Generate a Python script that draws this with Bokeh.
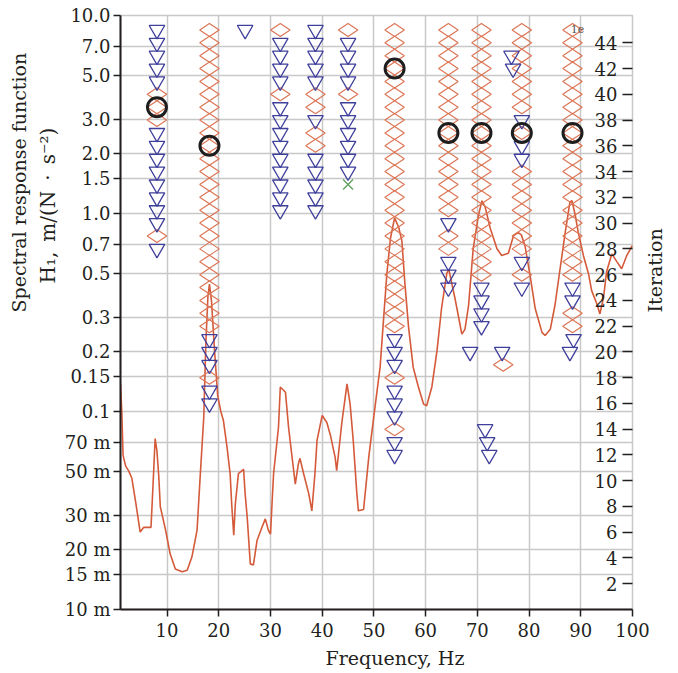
import numpy as np
from bokeh.plotting import figure
from bokeh.models import (Range1d, LinearAxis, LinearScale, FixedTicker, Label, LabelSet,
                          ColumnDataSource, Title)
from bokeh.embed import file_html
from bokeh.resources import INLINE
from bokeh.core.properties import value

# ---------------- data ----------------
freq = [1.0, 1.25, 1.5, 2.0, 2.6, 3.2, 4.0, 4.8, 5.5, 6.9, 7.3, 7.7, 8.05, 8.4, 8.7, 9.7,
        10.6, 11.6, 12.9, 13.9, 14.8, 15.8, 16.4, 17.1, 17.5, 17.9, 18.2, 18.6, 19.2, 19.8,
        20.4, 20.9, 21.6, 22.2, 22.5, 22.9, 23.2, 23.8, 24.8, 25.1, 25.5, 26.1, 26.7, 27.4,
        28.3, 29.0, 29.6, 30.0, 30.6, 31.55, 31.9, 32.9, 33.5, 34.1, 34.8, 35.4, 35.7, 36.4,
        37.4, 38.0, 38.6, 39.0, 40.0, 40.9, 41.6, 42.5, 42.8, 43.8, 44.8, 45.4, 46.0, 46.7,
        47.0, 48.0, 49.0, 50.2, 51.2, 51.8, 52.5, 53.2, 54.0, 54.8, 55.4, 56.0, 56.7, 57.6,
        58.6, 59.6, 60.2, 61.2, 62.2, 63.1, 64.1, 64.5, 65.0, 65.7, 67.0, 67.6, 68.3, 69.2,
        70.2, 70.9, 71.5, 72.5, 73.8, 74.7, 76.0, 77.0, 77.9, 78.5, 79.2, 80.2, 81.2, 82.5,
        83.1, 84.1, 85.0, 86.0, 87.0, 87.9, 88.3, 88.9, 89.5, 90.5, 91.5, 92.1, 93.1, 93.7,
        94.4, 95.0, 96.0, 97.0, 97.9, 98.9, 100.0]
H1 = [0.138, 0.10, 0.06, 0.053, 0.050, 0.046, 0.034, 0.0246, 0.026, 0.026, 0.043, 0.073, 0.063, 0.047, 0.033, 0.0253,
      0.0191, 0.016, 0.0155, 0.0158, 0.0184, 0.0251, 0.0466, 0.0935, 0.22, 0.38, 0.44, 0.36, 0.20, 0.12,
      0.10, 0.09, 0.066, 0.0486, 0.034, 0.0237, 0.034, 0.0486, 0.051, 0.0385, 0.0292, 0.017, 0.0168, 0.0223,
      0.0258, 0.0287, 0.0251, 0.024, 0.0486, 0.0833, 0.133, 0.125, 0.083, 0.061, 0.043, 0.0545, 0.058, 0.0486,
      0.0385, 0.0315, 0.0486, 0.0715, 0.0955, 0.088, 0.0757, 0.0587, 0.0503, 0.088, 0.138, 0.109, 0.0715, 0.0385,
      0.0315, 0.032, 0.0587, 0.105, 0.1675, 0.277, 0.495, 0.75, 0.95, 0.85, 0.73, 0.44, 0.267, 0.167,
      0.133, 0.109, 0.107, 0.133, 0.203, 0.336, 0.50, 0.52, 0.45, 0.37, 0.246, 0.26, 0.343, 0.664,
      0.977, 1.16, 1.08, 0.84, 0.664, 0.614, 0.63, 0.774, 0.80, 0.78, 0.69, 0.486, 0.33, 0.251,
      0.242, 0.26, 0.343, 0.526, 0.805, 1.14, 1.16, 0.99, 0.805, 0.614, 0.495, 0.408, 0.35, 0.311,
      0.377, 0.51, 0.625, 0.57, 0.526, 0.614, 0.69]

y_ticks = [10.0, 7.0, 5.0, 3.0, 2.0, 1.5, 1.0, 0.7, 0.5, 0.3, 0.2, 0.15, 0.1,
           0.07, 0.05, 0.03, 0.02, 0.015, 0.01]
y_tick_labels = ["10.0", "7.0", "5.0", "3.0", "2.0", "1.5", "1.0", "0.7", "0.5", "0.3", "0.2", "0.15", "0.1",
                 "70 m", "50 m", "30 m", "20 m", "15 m", "10 m"]
x_ticks = [10, 20, 30, 40, 50, 60, 70, 80, 90, 100]
iter_ticks = [2, 4, 6, 8, 10, 12, 14, 16, 18, 20, 22, 24, 26, 28, 30, 32, 34, 36, 38, 40, 42, 44]

# stabilization columns: (frequency, iterations) per marker type
c1_f = 8.05
c1_tri = [45, 44, 43, 42, 41, 37, 36, 35, 34, 33, 32, 31, 30, 28]
c1_dia = [40, 39, 38, 29]
c2_f = 18.2
c2_tri = [21, 20, 19, 17, 16]
c2_dia = [45, 44, 43, 42, 41, 40, 39, 38, 37, 36, 35, 34, 33, 32, 31, 30, 29, 28, 27, 26, 25, 24, 23, 22, 18]
c3_f = 25.1
c3_tri = [45]
c4_f = 31.9
c4_tri = [44, 43, 42, 41, 39, 38, 37, 36, 35, 34, 33, 32, 31]
c4_dia = [45, 40]
c5_f = 38.7
c5_tri = [45, 44, 43, 42, 41, 38, 35, 34, 33, 32, 31]
c5_dia = [40, 39, 37, 36]
c6_f = 45.0
c6_tri = [44, 43, 42, 41, 39, 38, 37, 36, 35, 34]
c6_dia = [45, 40]
c7_f = 54.0
c7_tri = [21, 20, 19, 17, 16, 15, 13, 12]
c7_dia = [45, 44, 43, 42, 41, 40, 39, 38, 37, 36, 35, 34, 33, 32, 31, 30, 29, 28, 27, 26, 25, 24, 23, 22, 18, 14]
c8_f = 64.4
c8_tri = [30, 27, 26, 25]
c8_dia = [45, 44, 43, 42, 41, 40, 39, 38, 37, 36, 35, 34, 33, 32, 31, 29, 28]
c9_f = 70.8
c9_tri = [25, 24, 23, 22]
c9_dia = [45, 44, 43, 42, 41, 40, 39, 38, 37, 36, 35, 34, 33, 32, 31, 30, 29, 28, 27, 26]
c11_f = 78.6
c11_tri = [38, 36, 35, 27, 25]
c11_dia = [45, 44, 43, 42, 41, 40, 39, 37, 34, 33, 32, 31, 30, 29, 28, 26]
c12_f = 88.4
c12_tri = [25, 24]
c12_dia = [45, 44, 43, 42, 41, 40, 39, 38, 37, 36, 35, 34, 33, 32, 31, 30, 29, 28, 27, 26, 23, 22]

# scattered single poles (frequency, iteration)
extra_tri_f = [68.6, 71.5, 71.9, 72.3, 76.6, 76.9, 74.8, 88.6, 87.9]
extra_tri_i = [20, 14, 13, 12, 43, 42, 20, 21, 20]
extra_dia_f = [75.0]
extra_dia_i = [19]
new_pole_f = [45.0]
new_pole_i = [33]
selected_f = [8.05, 18.2, 54.0, 64.4, 70.8, 78.6, 88.4]
selected_i = [39, 36, 42, 37, 37, 37, 37]

# ---------------- assemble ----------------
tri_cols = [(c1_f, c1_tri), (c2_f, c2_tri), (c3_f, c3_tri), (c4_f, c4_tri), (c5_f, c5_tri),
            (c6_f, c6_tri), (c7_f, c7_tri), (c8_f, c8_tri), (c9_f, c9_tri), (c11_f, c11_tri),
            (c12_f, c12_tri)]
dia_cols = [(c1_f, c1_dia), (c2_f, c2_dia), (c4_f, c4_dia), (c5_f, c5_dia), (c6_f, c6_dia),
            (c7_f, c7_dia), (c8_f, c8_dia), (c9_f, c9_dia), (c11_f, c11_dia), (c12_f, c12_dia)]
tri_f = [f for f, its in tri_cols for _ in its] + extra_tri_f
tri_i = [i for f, its in tri_cols for i in its] + extra_tri_i
dia_f = [f for f, its in dia_cols for _ in its] + extra_dia_f
dia_i = [i for f, its in dia_cols for i in its] + extra_dia_i

FONT = "DejaVu Serif"
FS = "18px"
TFS = "19px"
TXT = "#231f20"

p = figure(frame_width=512, frame_height=594, x_range=Range1d(1, 100), y_range=Range1d(0.01, 10),
           y_axis_type="log", output_backend="svg", toolbar_location=None,
           min_border_left=120, min_border_right=40, min_border_top=15, min_border_bottom=60)
p.extra_y_ranges = {"iter": Range1d(0, 46.12)}
p.extra_y_scales = {"iter": LinearScale()}
p.background_fill_color = "white"
p.outline_line_color = "#c8c8c8"
p.outline_line_width = 1.5

# grids
p.xgrid[0].ticker = FixedTicker(ticks=x_ticks)
p.ygrid[0].ticker = FixedTicker(ticks=y_ticks)
for g in (p.xgrid[0], p.ygrid[0]):
    g.grid_line_color = "#c8c8c8"
    g.grid_line_width = 1.5

# bottom axis
xa = p.xaxis[0]
xa.ticker = FixedTicker(ticks=x_ticks)
xa.major_tick_out = 7
xa.major_tick_in = 0
xa.minor_tick_line_color = None
xa.axis_line_color = TXT
xa.axis_line_width = 2
xa.major_tick_line_color = TXT
xa.major_tick_line_width = 1.5
xa.major_label_text_font = FONT
xa.major_label_text_font_size = FS
xa.major_label_text_color = TXT
xa.major_label_standoff = 6

# left axis
ya = p.yaxis[0]
ya.ticker = FixedTicker(ticks=y_ticks)
ya.major_label_overrides = dict(zip(y_ticks, y_tick_labels))
ya.major_tick_out = 7
ya.major_tick_in = 0
ya.minor_tick_line_color = None
ya.axis_line_color = TXT
ya.axis_line_width = 2
ya.major_tick_line_color = TXT
ya.major_tick_line_width = 1.5
ya.major_label_text_font = FONT
ya.major_label_text_font_size = FS
ya.major_label_text_color = TXT
ya.major_label_standoff = 3

# right (iteration) axis, ticks pointing inwards; its numbers are drawn inside the frame below
ra = LinearAxis(y_range_name="iter", ticker=FixedTicker(ticks=iter_ticks))
ra.major_label_text_color = None
ra.major_label_text_font_size = FS
ra.major_tick_in = 10
ra.major_tick_out = 0
ra.axis_line_color = None
ra.minor_tick_line_color = None
ra.major_tick_line_color = TXT
ra.major_tick_line_width = 1.5
ra.major_label_standoff = 0
has_orient = "axis_label_orientation" in ra.properties()
if has_orient:
    ra.axis_label = "Iteration"
    ra.axis_label_orientation = np.pi / 2
    ra.axis_label_text_font = FONT
    ra.axis_label_text_font_size = TFS
    ra.axis_label_text_font_style = "normal"
    ra.axis_label_text_color = TXT
    ra.axis_label_standoff = 22
p.add_layout(ra, "right")
if not has_orient:
    p.add_layout(Title(text="Iteration", align="center", text_font=FONT, text_font_size=TFS,
                       text_font_style="normal", text_color=TXT), "right")

# spectral response line
p.line(freq, H1, line_color="#d45a3a", line_width=1.6)

# stabilization markers
p.scatter(dia_f, dia_i, marker="diamond", angle=np.pi / 2, size=19.5, fill_color=None,
          line_color="#dc7656", line_width=1.2, y_range_name="iter")
p.scatter(tri_f, tri_i, marker="inverted_triangle", size=15.5, fill_color=None,
          line_color="#3f3f9c", line_width=1.3, y_range_name="iter")
p.scatter(new_pole_f, new_pole_i, marker="x", size=14, line_color="#5e9e5e", line_width=1.3,
          y_range_name="iter")
p.scatter(selected_f, selected_i, marker="circle", size=19, fill_color=None,
          line_color="#1e1e1e", line_width=3, y_range_name="iter")

# right axis tick numbers (right-aligned, inside the frame)
rsrc = ColumnDataSource(dict(x=[497] * len(iter_ticks), y=iter_ticks, text=[str(t) for t in iter_ticks]))
p.add_layout(LabelSet(x="x", y="y", text="text", source=rsrc, x_units="screen", y_range_name="iter",
                      text_align="right", text_baseline="middle", text_font=value(FONT),
                      text_font_size=value(FS), text_color=TXT))

# axis titles (left: two lines placed above centre as in the reference)
def title(text, side, offset, standoff, size=TFS):
    p.add_layout(Title(text=text, align="left", offset=offset, standoff=standoff, text_font=FONT,
                       text_font_size=size, text_font_style="normal", text_color=TXT), side)

title("H\u2081,\u2002m/(N\u2002\u00b7\u2002s\u207b\u00b2)", "left", 326, 3, "20px")
title("Spectral response function", "left", 297, 6)
title("Frequency, Hz", "below", 205, 10)

p.add_layout(Label(x=457, y=581, x_units="screen", y_units="screen", text="1e",
                   text_font=FONT, text_font_size="11px", text_color="#555555",
                   text_align="center", text_baseline="middle"))

open("out.html", "w").write(file_html(p, INLINE))
